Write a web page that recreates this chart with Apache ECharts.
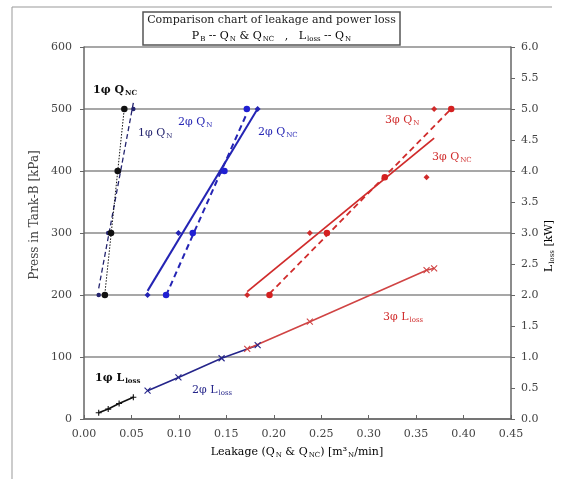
<!DOCTYPE html>
<html>
<head>
<meta charset="utf-8">
<script src="https://cdn.jsdelivr.net/npm/echarts@6/dist/echarts.min.js"></script>
<style>
    html, body { margin: 0; padding: 0; background: #fff; }
    #chart { width: 563px; height: 479px; }
</style>
</head>
<body>
<div id="chart"></div>
<script>
// pressure steps in Tank-B [kPa]
const press1 = [200, 300, 400, 500];
const press2 = [200, 300, 400, 500];
const press3 = [200, 300, 390, 500];

// leakage [m3N/min]
const q1N = [0.0155, 0.0255, 0.037, 0.052];
const q1NC = [0.022, 0.0285, 0.0355, 0.0425];
const q2N = [0.067, 0.0995, 0.145, 0.183];
const q2NC = [0.0865, 0.1146, 0.148, 0.1716];
const q3N = [0.172, 0.238, 0.361, 0.369];
const q3NC = [0.1955, 0.256, 0.317, 0.387];

// power loss [kW] against Q_N
const loss1 = [0.10, 0.16, 0.25, 0.35];
const loss2 = [0.456, 0.67, 0.98, 1.19];
const loss3 = [1.13, 1.57, 2.40, 2.43];

// axis ticks
const xTicks = [0, 0.05, 0.10, 0.15, 0.20, 0.25, 0.30, 0.35, 0.40, 0.45];
const pressTicks = [0, 100, 200, 300, 400, 500, 600];
const lossTicks = [0, 0.5, 1, 1.5, 2, 2.5, 3, 3.5, 4, 4.5, 5, 5.5, 6];

const FONT = 'DejaVu Serif';
const BLACK = '#111111';
const NAVY = '#23236e';
const BLUE = '#2424b4';
const RED = '#d02b2b';

const zip = (xs, ys) => xs.map((x, i) => [x, ys[i]]);

// linear trend line (like the spreadsheet one), from first to last x
function trend(xs, ys) {
    const n = xs.length;
    const mx = xs.reduce((a, b) => a + b, 0) / n;
    const my = ys.reduce((a, b) => a + b, 0) / n;
    let sxy = 0, sxx = 0;
    xs.forEach((x, i) => { sxy += (x - mx) * (ys[i] - my); sxx += (x - mx) * (x - mx); });
    const k = sxy / sxx;
    const x0 = Math.min(...xs), x1 = Math.max(...xs);
    return [[x0, my + k * (x0 - mx)], [x1, my + k * (x1 - mx)]];
}

function fitLine(name, xs, ys, color, type, width) {
    return {
        name: name, type: 'line', data: trend(xs, ys), symbol: 'none',
        lineStyle: { color: color, type: type, width: width }, z: 3
    };
}

function dots(name, xs, ys, color, symbol, size) {
    return {
        name: name, type: 'scatter', data: zip(xs, ys), symbol: symbol, symbolSize: size,
        itemStyle: { color: color, opacity: 1 }, z: 4
    };
}

const crossPath = 'path://M0,0L10,10M10,0L0,10';
const plusPath = 'path://M5,0L5,10M0,5L10,5';

function lossLine(name, xs, ys, color, symbol) {
    return {
        name: name, type: 'line', yAxisIndex: 1, data: zip(xs, ys),
        symbol: symbol, symbolSize: 6, showAllSymbol: true,
        lineStyle: { color: color, width: 1.6 },
        itemStyle: { color: color, borderColor: color, borderWidth: 1.1 }, z: 5
    };
}

const sub = { fontSize: 7, verticalAlign: 'bottom', lineHeight: 11, padding: [0, 0, 0, 1] };

function label(x, y, text, color, bold) {
    return {
        type: 'text', x: x, y: y, z: 20,
        style: {
            text: text, fill: color, font: (bold ? 'bold ' : '') + '11px "' + FONT + '"',
            verticalAlign: 'middle',
            rich: {
                m: { fontSize: 11, fontFamily: FONT, fontWeight: bold ? 'bold' : 'normal', lineHeight: 14, color: color },
                s: Object.assign({ fontFamily: FONT, fontWeight: bold ? 'bold' : 'normal', color: color }, sub)
            }
        }
    };
}

const chart = echarts.init(document.getElementById('chart'));
chart.setOption({
    animation: false,
    backgroundColor: '#fff',
    grid: { left: 84, right: 52, top: 47, bottom: 60 },
    xAxis: {
        type: 'value', min: xTicks[0], max: xTicks[xTicks.length - 1], interval: xTicks[1] - xTicks[0],
        axisLine: { lineStyle: { color: '#666', width: 1.5 } },
        axisTick: { inside: true, length: 4, lineStyle: { color: '#666' } },
        axisLabel: { fontFamily: FONT, fontSize: 11, color: '#444', margin: 10, formatter: v => v.toFixed(2) },
        splitLine: { show: false }
    },
    yAxis: [{
        type: 'value', min: pressTicks[0], max: pressTicks[pressTicks.length - 1], interval: pressTicks[1] - pressTicks[0],
        axisLine: { show: true, lineStyle: { color: '#666', width: 1.5 } },
        axisTick: { show: true, length: 4, lineStyle: { color: '#666' } },
        axisLabel: { fontFamily: FONT, fontSize: 11, color: '#444', margin: 12 },
        splitLine: { show: true, lineStyle: { color: '#8a8a8a', width: 1.5 } }
    }, {
        type: 'value', position: 'right', min: lossTicks[0], max: lossTicks[lossTicks.length - 1], interval: lossTicks[1] - lossTicks[0],
        axisLine: { show: true, lineStyle: { color: '#666', width: 1.5 } },
        axisTick: { show: true, length: 4, lineStyle: { color: '#666' } },
        axisLabel: { fontFamily: FONT, fontSize: 11, color: '#444', margin: 10, formatter: v => v.toFixed(1) },
        splitLine: { show: false }
    }],
    series: [
        fitLine('1φ QN', q1N, press1, NAVY, [5, 3], 1.3),
        fitLine('1φ QNC', q1NC, press1, BLACK, [1.5, 1.5], 1),
        dots('1φ QN pts', q1N, press1, NAVY, 'circle', 4.5),
        dots('1φ QNC pts', q1NC, press1, BLACK, 'circle', 6.5),
        fitLine('2φ QN', q2N, press2, BLUE, 'solid', 2),
        fitLine('2φ QNC', q2NC, press2, BLUE, [6, 4], 2),
        dots('2φ QN pts', q2N, press2, BLUE, 'diamond', 6),
        dots('2φ QNC pts', q2NC, press2, '#1f1fd2', 'circle', 6.5),
        fitLine('3φ QN', q3N, press3, RED, 'solid', 1.8),
        fitLine('3φ QNC', q3NC, press3, RED, [6, 4], 1.8),
        dots('3φ QN pts', q3N, press3, RED, 'diamond', 6),
        dots('3φ QNC pts', q3NC, press3, '#d42020', 'circle', 6.5),
        lossLine('1φ Lloss', q1N, loss1, BLACK, plusPath),
        lossLine('2φ Lloss', q2N, loss2, '#25258a', crossPath),
        lossLine('3φ Lloss', q3N, loss3, '#d04444', crossPath)
    ],
    graphic: [
        // outer frame pieces
        { type: 'line', shape: { x1: 12, y1: 7, x2: 552, y2: 7 }, style: { stroke: '#999', lineWidth: 1 } },
        { type: 'line', shape: { x1: 12, y1: 7, x2: 12, y2: 479 }, style: { stroke: '#999', lineWidth: 1 } },
        // title box
        { type: 'rect', shape: { x: 143, y: 12, width: 257, height: 33 }, style: { fill: '#fff', stroke: '#555', lineWidth: 1.5 }, z: 10 },
        { type: 'text', x: 271.5, y: 20, z: 11, style: { text: 'Comparison chart of leakage and power loss', font: '11px "' + FONT + '"', fill: '#222', align: 'center', verticalAlign: 'middle' } },
        {
            type: 'text', x: 271.5, y: 36, z: 11,
            style: {
                text: '{m|P}{s|B}{m| -- Q}{s|N}{m| & Q}{s|NC}{m|   ,   L}{s|loss}{m| -- Q}{s|N}',
                align: 'center', verticalAlign: 'middle',
                rich: {
                    m: { fontSize: 11, fontFamily: FONT, lineHeight: 14, color: '#222' },
                    s: Object.assign({ fontFamily: FONT, color: '#222' }, sub, { fontSize: 7, lineHeight: 10 })
                }
            }
        },
        // axis names
        {
            type: 'text', x: 35, y: 215, rotation: Math.PI / 2, z: 11,
            style: { text: 'Press in Tank-B [kPa]', font: '12px "' + FONT + '"', fill: '#444', align: 'center', verticalAlign: 'middle' }
        },
        {
            type: 'text', x: 549, y: 246, rotation: Math.PI / 2, z: 11,
            style: {
                text: '{m|L}{s|loss}{m| [kW]}', align: 'center', verticalAlign: 'middle',
                rich: {
                    m: { fontSize: 11, fontFamily: FONT, lineHeight: 14, color: '#444' },
                    s: Object.assign({ fontFamily: FONT, color: '#444' }, sub)
                }
            }
        },
        {
            type: 'text', x: 297, y: 452, z: 11,
            style: {
                text: '{m|Leakage (Q}{s|N}{m| & Q}{s|NC}{m|) [m³}{s|N}{m|/min]}', align: 'center', verticalAlign: 'middle',
                rich: {
                    m: { fontSize: 11, fontFamily: FONT, lineHeight: 14, color: '#222' },
                    s: Object.assign({ fontFamily: FONT, color: '#222' }, sub)
                }
            }
        },
        // series labels
        label(93, 90, '{m|1φ Q}{s|NC}', BLACK, true),
        label(138, 133, '{m|1φ Q}{s|N}', NAVY, false),
        label(178, 122, '{m|2φ Q}{s|N}', BLUE, false),
        label(258, 132, '{m|2φ Q}{s|NC}', BLUE, false),
        label(385, 120, '{m|3φ Q}{s|N}', RED, false),
        label(432, 157, '{m|3φ Q}{s|NC}', RED, false),
        label(95, 378, '{m|1φ L}{s|loss}', BLACK, true),
        label(192, 390, '{m|2φ L}{s|loss}', '#25258a', false),
        label(383, 317, '{m|3φ L}{s|loss}', RED, false)
    ]
});
</script>
</body>
</html>
